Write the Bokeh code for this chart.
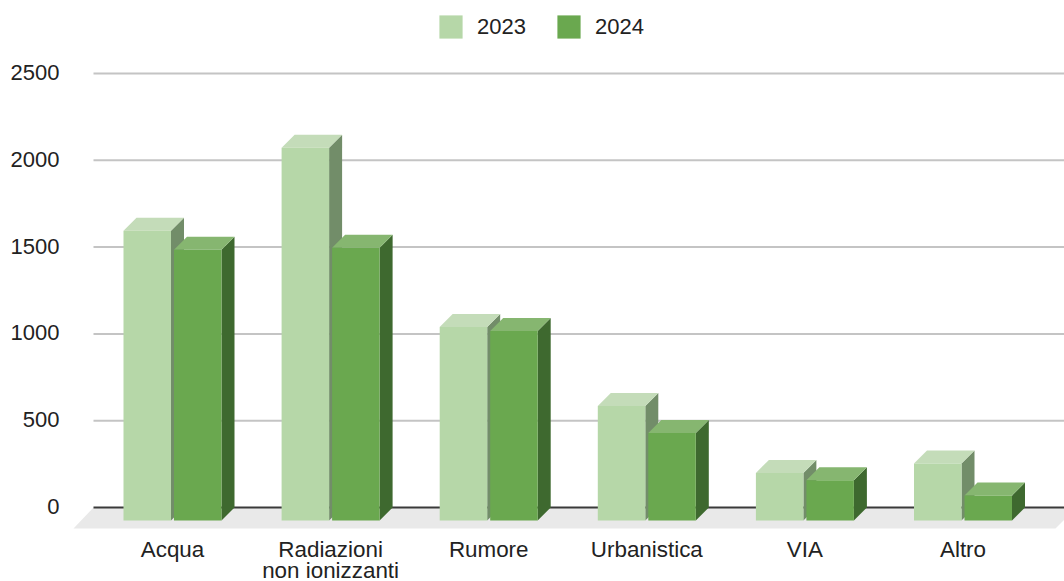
from bokeh.embed import file_html
from bokeh.resources import INLINE
from bokeh.plotting import figure
from bokeh.models import Range1d, LinearAxis, FixedTicker, Legend, LegendItem

categories = ["Acqua", "Radiazioni\nnon ionizzanti", "Rumore", "Urbanistica", "VIA", "Altro"]
series_names = ["2023", "2024"]
values_2023 = [1669, 2147, 1115, 660, 274, 328]
values_2024 = [1559, 1571, 1092, 504, 232, 144]
y_ticks = [0, 500, 1000, 1500, 2000, 2500]

W, H = 1064, 581
PX_X = 158.1            # pixels per category
PX_Y = 434 / 2500       # pixels per unit
X0, Y0 = 172.0, 507.0   # pixel of first category, pixel of value 0
dx = 13 / PX_X
dy = 13 / PX_Y
bar_w = 47.5 / PX_X
gap = 3 / PX_X

y_start, y_end = -(H - Y0) / PX_Y, Y0 / PX_Y
p = figure(width=W, height=H, output_backend="svg", toolbar_location=None,
           x_range=Range1d(-X0 / PX_X, (W - X0) / PX_X),
           y_range=Range1d(y_start, y_end),
           x_axis_location=None, y_axis_location=None,
           min_border=0, outline_line_color=None, background_fill_color="white",
           border_fill_color="white")
p.grid.visible = False
p.styles = {"position": "absolute", "left": "0px", "top": "0px"}
p.extra_y_ranges = {"labels": Range1d(y_start - 1 / PX_Y, y_end - 1 / PX_Y)}

def xpx(px):
    return (px - X0) / PX_X

def ypx(px):
    return (Y0 - px) / PX_Y

# floor
p.patch([xpx(93), xpx(73), xpx(1055), xpx(1076)], [0, -21 / PX_Y, -21 / PX_Y, 0],
        fill_color="#e9e9e9", line_color=None)
# grid
grid_vals = [t for t in y_ticks if t != 0]
p.segment([xpx(93)] * len(grid_vals), grid_vals, [xpx(W)] * len(grid_vals), grid_vals,
          line_color="#c4c4c4", line_width=2)
p.segment([xpx(93)], [0], [xpx(W)], [0], line_color="#3a3a3a", line_width=2)

n = len(categories)
idx = list(range(n))
styles = [("#b6d7a8", "#c4dcb9", "#728d69"), ("#6aa84f", "#86b670", "#3e692f")]
fronts = []
for s, vals in enumerate([values_2023, values_2024]):
    front_col, top_col, side_col = styles[s]
    lefts = [i - bar_w - gap / 2 if s == 0 else i + gap / 2 for i in idx]
    rights = [l + bar_w for l in lefts]
    p.patches([[r, r + dx, r + dx, r] for r in rights],
              [[-dy, 0, v, v - dy] for v in vals],
              fill_color=side_col, line_color=None)
    p.patches([[l, l + dx, r + dx, r] for l, r in zip(lefts, rights)],
              [[v - dy, v, v, v - dy] for v in vals],
              fill_color=top_col, line_color=None)
    fronts.append(p.quad(left=lefts, right=rights, bottom=[-dy] * n,
                         top=[v - dy for v in vals],
                         fill_color=front_col, line_color=None))

def style_axis(ax, size):
    ax.axis_line_color = None
    ax.major_tick_line_color = None
    ax.minor_tick_line_color = None
    ax.major_label_standoff = 0
    ax.major_label_text_font = "Liberation Sans"
    ax.major_label_text_font_size = size
    ax.major_label_text_color = "#222222"

# axes drawn at fixed places inside the frame
yax = LinearAxis(ticker=FixedTicker(ticks=y_ticks), fixed_location=xpx(65), y_range_name="labels")
style_axis(yax, "22px")
p.add_layout(yax, "left")

first_lines = [c.split("\n")[0] for c in categories]
second_lines = {i: c.split("\n")[1] for i, c in enumerate(categories) if "\n" in c}

xax = LinearAxis(ticker=FixedTicker(ticks=idx), fixed_location=ypx(530))
xax.major_label_overrides = dict(enumerate(first_lines))
style_axis(xax, "22.4px")
p.add_layout(xax, "below")

xax2 = LinearAxis(ticker=FixedTicker(ticks=list(second_lines)), fixed_location=ypx(551))
xax2.major_label_overrides = second_lines
style_axis(xax2, "22.4px")
p.add_layout(xax2, "below")

legend = Legend(items=[LegendItem(label=series_names[i], renderers=[fronts[i]]) for i in range(2)],
                orientation="horizontal", location=(436, H - 41),
                glyph_width=29, glyph_height=29, label_standoff=12, spacing=28,
                padding=0, margin=0, border_line_color=None, background_fill_alpha=0,
                label_text_font="Liberation Sans", label_text_font_size="22px",
                label_text_color="#222222", label_height=29)
p.add_layout(legend, "center")

open("out.html", "w").write(file_html(p, INLINE))
